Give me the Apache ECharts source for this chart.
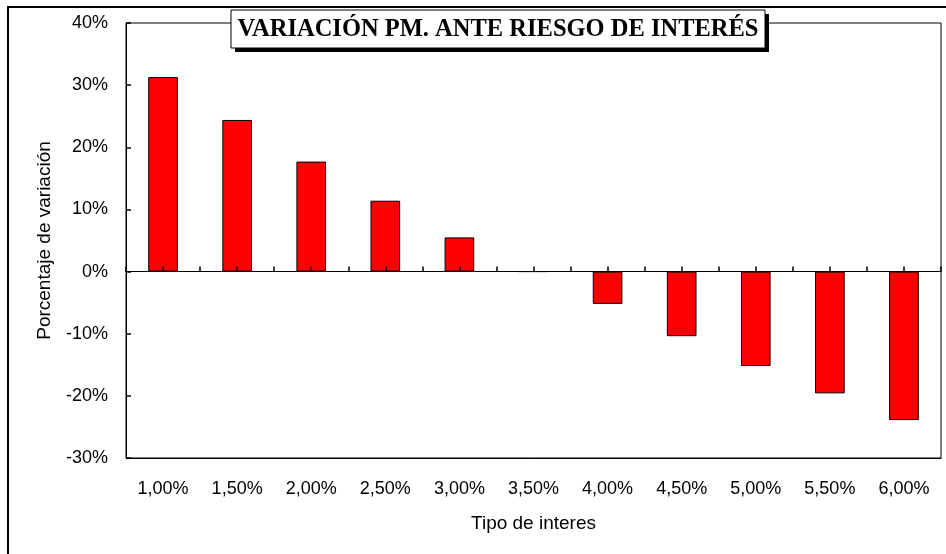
<!DOCTYPE html>
<html>
<head>
<meta charset="utf-8">
<script src="https://cdn.jsdelivr.net/npm/echarts@6/dist/echarts.min.js"></script>
<style>
html,body{margin:0;padding:0;background:#fff;}
#chart{width:946px;height:554px;}
</style>
</head>
<body>
<div id="chart"></div>
<script>
// Data
var categories = ['1,00%','1,50%','2,00%','2,50%','3,00%','3,50%','4,00%','4,50%','5,00%','5,50%','6,00%'];
var variation = [31.3, 24.4, 17.7, 11.4, 5.5, 0, -5.2, -10.4, -15.2, -19.6, -23.9];
var titleText = 'VARIACIÓN PM. ANTE RIESGO DE INTERÉS';
var yAxisName = 'Porcentaje de variación';
var xAxisName = 'Tipo de interes';

// half-category slots for the tick marks on the zero line (ticks at boundaries and centres)
var tickSlots = [];
categories.forEach(function (c) { tickSlots.push(c + ' a', c + ' b'); });

var chart = echarts.init(document.getElementById('chart'), null, {renderer: 'canvas'});
var font = 'Liberation Sans, Arial, sans-serif';
chart.setOption({
  animation: false,
  backgroundColor: '#fff',
  grid: {left: 126, right: 5, top: 23, bottom: 96, show: true, borderColor: '#000', borderWidth: 1, backgroundColor: 'transparent'},
  xAxis: [
    {
      type: 'category', data: categories, position: 'bottom',
      axisLine: {onZero: false, lineStyle: {color: '#000', width: 1}},
      axisTick: {show: false},
      axisLabel: {color: '#000', fontFamily: font, fontSize: 18, margin: 22, interval: 0},
      name: xAxisName, nameLocation: 'middle', nameGap: 56,
      nameTextStyle: {color: '#000', fontFamily: font, fontSize: 19}
    },
    {
      type: 'category', data: tickSlots, position: 'bottom', z: 10,
      axisLine: {onZero: true, lineStyle: {color: '#000', width: 1}},
      axisTick: {show: true, inside: true, length: 5, alignWithLabel: false, interval: 0, lineStyle: {color: '#000', width: 1.5}},
      axisLabel: {show: false}
    }
  ],
  yAxis: {
    type: 'value', min: -30, max: 40, interval: 10, z: 10,
    axisLine: {show: true, lineStyle: {color: '#000', width: 1}},
    axisTick: {show: true, inside: true, length: 5, lineStyle: {color: '#000', width: 1.5}},
    axisLabel: {color: '#000', fontFamily: font, fontSize: 18, margin: 18, formatter: '{value}%'},
    splitLine: {show: false},
    name: yAxisName, nameLocation: 'middle', nameGap: 72,
    nameTextStyle: {color: '#000', fontFamily: font, fontSize: 19}
  },
  series: [{
    type: 'bar', data: variation, xAxisIndex: 0, z: 1,
    barCategoryGap: '60%',
    itemStyle: {color: '#ff0000', borderColor: '#000', borderWidth: 1}
  }],
  graphic: [
    {type: 'rect', shape: {x: 8, y: 7, width: 960, height: 580}, style: {fill: 'none', stroke: '#000', lineWidth: 2}, z: 100},
    {type: 'rect', shape: {x: 235, y: 14, width: 534, height: 38}, style: {fill: '#000'}, z: 100},
    {type: 'rect', shape: {x: 231, y: 10, width: 534, height: 38}, style: {fill: '#fff', stroke: '#000', lineWidth: 1}, z: 101},
    {type: 'text', x: 498, y: 30, style: {text: titleText, fill: '#000', font: 'bold 24.5px "Liberation Serif", "Times New Roman", serif', textAlign: 'center', textVerticalAlign: 'middle'}, z: 102}
  ]
});
</script>
</body>
</html>
